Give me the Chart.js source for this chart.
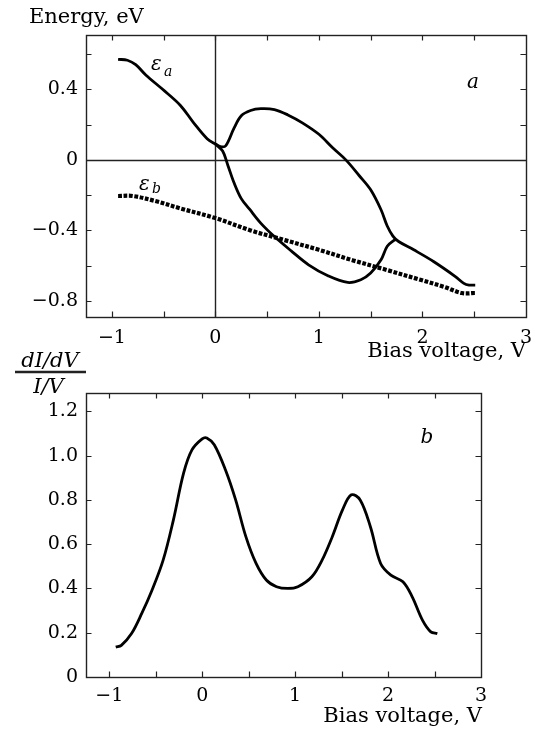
<!DOCTYPE html>
<html>
<head>
<meta charset="utf-8">
<script src="https://cdn.jsdelivr.net/npm/chart.js@4.4.1/dist/chart.umd.min.js"></script>
<style>
  html, body { margin: 0; padding: 0; background: #fff; }
  body { width: 542px; height: 733px; position: relative; overflow: hidden; }
  canvas { position: absolute; left: 0; }
  #top { top: 0; }
  #bot { top: 340px; }
</style>
</head>
<body>
<canvas id="top" width="542" height="365"></canvas>
<canvas id="bot" width="542" height="393"></canvas>
<script>
// ---------- data (panel a) ----------
const eaUpperX = [-0.94,-0.85,-0.77,-0.67,-0.51,-0.34,-0.21,-0.08,0,0.05,0.10,0.18,0.25,0.34,0.44,0.57,0.70,0.84,1.0,1.13,1.26,1.39,1.50,1.60,1.66,1.715,1.77,1.916,2.107,2.315,2.40,2.45,2.51];
const eaUpperY = [0.57,0.565,0.54,0.48,0.40,0.31,0.21,0.12,0.09,0.075,0.08,0.18,0.25,0.28,0.29,0.285,0.255,0.21,0.145,0.07,0,-0.09,-0.17,-0.283,-0.375,-0.432,-0.463,-0.51,-0.576,-0.66,-0.70,-0.71,-0.71];
const eaLowerX = [0,0.07,0.12,0.18,0.25,0.33,0.44,0.57,0.74,0.90,1.087,1.278,1.405,1.50,1.60,1.66,1.725,1.75];
const eaLowerY = [0.09,0.05,-0.03,-0.13,-0.22,-0.28,-0.36,-0.435,-0.52,-0.595,-0.657,-0.695,-0.68,-0.642,-0.567,-0.49,-0.457,-0.45];
const ebX = [-0.94,-0.80,-0.57,-0.34,0,0.34,0.67,1.0,1.33,1.66,1.98,2.21,2.38,2.51];
const ebY = [-0.205,-0.205,-0.235,-0.275,-0.33,-0.40,-0.455,-0.51,-0.57,-0.625,-0.68,-0.72,-0.755,-0.755];

// ---------- data (panel b) ----------
const condX = [-0.93,-0.87,-0.76,-0.65,-0.54,-0.42,-0.31,-0.20,-0.11,0,0.05,0.13,0.25,0.36,0.47,0.58,0.69,0.80,0.92,1.03,1.18,1.29,1.40,1.51,1.605,1.70,1.81,1.92,2.03,2.16,2.26,2.37,2.46,2.53];
const condY = [0.135,0.143,0.196,0.287,0.392,0.528,0.709,0.921,1.026,1.076,1.08,1.049,0.936,0.80,0.634,0.513,0.438,0.408,0.40,0.408,0.453,0.528,0.634,0.755,0.823,0.80,0.679,0.513,0.46,0.43,0.362,0.257,0.204,0.196];

// ---------- ticks ----------
const xTickValues = [-1,-0.5,0,0.5,1,1.5,2,2.5,3];
const xTickLabels = {'-1':'\u22121','0':'0','1':'1','2':'2','3':'3'};
const topYTickValues = [-0.8,-0.6,-0.4,-0.2,0,0.2,0.4,0.6];
const topYTickLabels = {'-0.8':'\u22120.8','-0.4':'\u22120.4','0':'0','0.4':'0.4'};
const botYTickValues = [0,0.2,0.4,0.6,0.8,1.0,1.2];
const botYTickLabels = {'0':'0','0.2':'0.2','0.4':'0.4','0.6':'0.6','0.8':'0.8','1':'1.0','1.2':'1.2'};

// ---------- text ----------
const txtEnergy = 'Energy, eV';
const txtBias = 'Bias voltage, V';
const txtNum = 'dI/dV';
const txtDen = 'I/V';

const pts = (xs, ys) => xs.map((x, i) => ({x, y: ys[i]}));
const key = v => String(Math.round(v * 100) / 100);

Chart.defaults.font.family = "'DejaVu Serif', serif";
Chart.defaults.color = '#000';

const framePlugin = {
  id: 'frame',
  beforeDatasetsDraw(chart, args, opts) {
    if (!opts.zero) return;
    const {ctx, chartArea: a, scales: {x, y}} = chart;
    ctx.save();
    ctx.strokeStyle = '#222';
    ctx.lineWidth = 1.4;
    const y0 = Math.round(y.getPixelForValue(0)) + 0.5;
    const x0 = Math.round(x.getPixelForValue(0)) + 0.5;
    ctx.beginPath();
    ctx.moveTo(a.left, y0); ctx.lineTo(a.right, y0);
    ctx.moveTo(x0, a.top); ctx.lineTo(x0, a.bottom);
    ctx.stroke();
    ctx.restore();
  },
  afterDraw(chart, args, opts) {
    const {ctx, chartArea: a, scales: {x, y}} = chart;
    ctx.save();
    ctx.strokeStyle = '#222';
    ctx.lineWidth = 1.4;
    ctx.strokeRect(Math.round(a.left) + 0.5, Math.round(a.top) + 0.5, Math.round(a.right - a.left), Math.round(a.bottom - a.top));
    const L = 5.5;
    ctx.lineWidth = 1.2;
    ctx.beginPath();
    x.ticks.forEach(t => {
      const p = Math.round(x.getPixelForValue(t.value)) + 0.5;
      if (p <= a.left + 1 || p >= a.right - 1) return;
      ctx.moveTo(p, a.bottom); ctx.lineTo(p, a.bottom - L);
      ctx.moveTo(p, a.top); ctx.lineTo(p, a.top + L);
    });
    y.ticks.forEach(t => {
      const p = Math.round(y.getPixelForValue(t.value)) + 0.5;
      if (p <= a.top + 1 || p >= a.bottom - 1) return;
      ctx.moveTo(a.left, p); ctx.lineTo(a.left + L, p);
      ctx.moveTo(a.right, p); ctx.lineTo(a.right - L, p);
    });
    ctx.stroke();
    ctx.fillStyle = '#000';
    ctx.textBaseline = 'alphabetic';
    (opts.texts || []).forEach(t => {
      ctx.font = t.font;
      ctx.textAlign = t.align || 'left';
      ctx.fillText(t.text, t.x, t.y);
    });
    (opts.bars || []).forEach(b => {
      ctx.lineWidth = b.w;
      ctx.beginPath();
      ctx.moveTo(b.x1, b.y); ctx.lineTo(b.x2, b.y);
      ctx.stroke();
    });
    ctx.restore();
  }
};

const tickFont = {family: "'DejaVu Serif', serif", size: 19};

function xScale(pad, height) {
  return {
    type: 'linear', min: -1.25, max: 3,
    afterBuildTicks: s => { s.ticks = xTickValues.map(v => ({value: v})); },
    afterFit: s => { s.height = height; },
    grid: {display: false, drawTicks: false},
    border: {display: false},
    ticks: {
      font: tickFont, padding: pad, autoSkip: false, maxRotation: 0,
      callback: v => xTickLabels[key(v)] || ''
    }
  };
}
function yScale(min, max, values, labels) {
  return {
    type: 'linear', min, max,
    afterBuildTicks: s => { s.ticks = values.map(v => ({value: v})); },
    afterFit: s => { s.width = 86; },
    grid: {display: false, drawTicks: false},
    border: {display: false},
    ticks: {
      font: tickFont, padding: 8, autoSkip: false,
      callback: v => labels[key(v)] || ''
    }
  };
}

const lineDS = (data, extra) => Object.assign({
  data, showLine: true, pointRadius: 0, borderColor: '#000', borderWidth: 2.8,
  tension: 0.35, fill: false, borderJoinStyle: 'round'
}, extra || {});

new Chart(document.getElementById('top'), {
  type: 'scatter',
  data: {
    datasets: [
      lineDS(pts(eaUpperX, eaUpperY)),
      lineDS(pts(eaLowerX, eaLowerY)),
      lineDS(pts(ebX, ebY), {borderWidth: 4.2, borderDash: [3.8, 1.6], borderCapStyle: 'butt', borderJoinStyle: 'miter'})
    ]
  },
  options: {
    responsive: false, animation: false, devicePixelRatio: 1,
    layout: {padding: {top: 35, right: 12, left: 0, bottom: 0}},
    plugins: {
      legend: {display: false}, tooltip: {enabled: false},
      frame: {
        zero: true,
        texts: [
          {text: txtEnergy, x: 29, y: 22.5, font: "21px 'DejaVu Serif'"},
          {text: txtBias, x: 526, y: 357, font: "21px 'DejaVu Serif'", align: 'right'},
          {text: '\u03b5', x: 151, y: 70, font: "italic 20px 'DejaVu Serif'"},
          {text: 'a', x: 164, y: 76, font: "italic 14px 'DejaVu Serif'"},
          {text: '\u03b5', x: 139, y: 190, font: "italic 20px 'DejaVu Serif'"},
          {text: 'b', x: 152, y: 193, font: "italic 14px 'DejaVu Serif'"},
          {text: 'a', x: 473, y: 88, font: "italic 20px 'DejaVu Serif'", align: 'center'}
        ]
      }
    },
    scales: {
      x: xScale(10, 48),
      y: yScale(-0.891, 0.708, topYTickValues, topYTickLabels)
    }
  },
  plugins: [framePlugin]
});

new Chart(document.getElementById('bot'), {
  type: 'scatter',
  data: {
    datasets: [lineDS(pts(condX, condY))]
  },
  options: {
    responsive: false, animation: false, devicePixelRatio: 1,
    layout: {padding: {top: 53, right: 61, left: 0, bottom: 0}},
    plugins: {
      legend: {display: false}, tooltip: {enabled: false},
      frame: {
        zero: false,
        texts: [
          {text: txtNum, x: 50, y: 367 - 340, font: "italic 21px 'DejaVu Serif'", align: 'center'},
          {text: txtDen, x: 48.5, y: 393 - 340, font: "italic 21px 'DejaVu Serif'", align: 'center'},
          {text: txtBias, x: 482, y: 722 - 340, font: "21px 'DejaVu Serif'", align: 'right'},
          {text: 'b', x: 427, y: 443 - 340, font: "italic 20px 'DejaVu Serif'", align: 'center'}
        ],
        bars: [{x1: 15, x2: 86, y: 372 - 340, w: 2.6}]
      }
    },
    scales: {
      x: xScale(8, 56),
      y: yScale(0, 1.283, botYTickValues, botYTickLabels)
    }
  },
  plugins: [framePlugin]
});
</script>
</body>
</html>
